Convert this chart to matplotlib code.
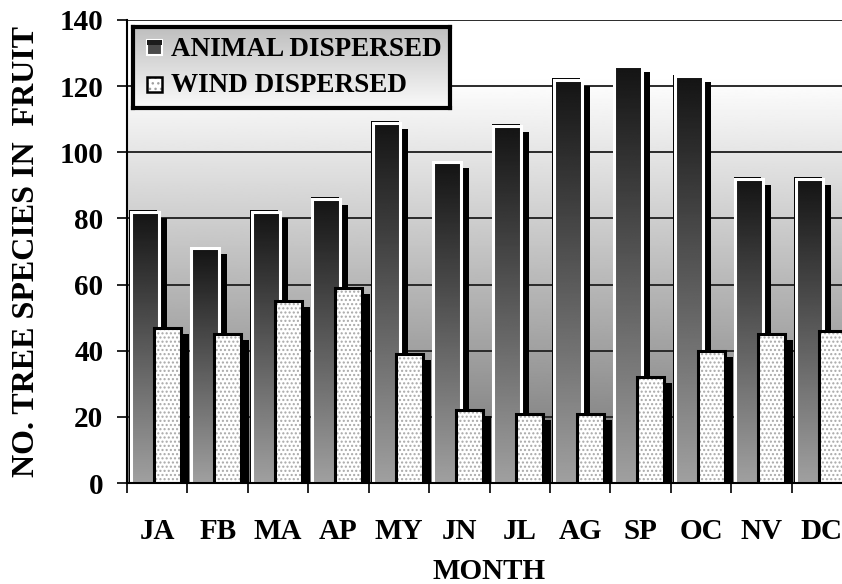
import numpy as np
import matplotlib
matplotlib.use("Agg")
import matplotlib.pyplot as plt
from matplotlib.patches import Rectangle
from matplotlib.transforms import ScaledTranslation

# ---- data ----
months = ["JA", "FB", "MA", "AP", "MY", "JN", "JL", "AG", "SP", "OC", "NV", "DC"]
animal = [82, 71, 82, 86, 109, 97, 108, 122, 126, 123, 92, 92]
wind = [47, 45, 55, 59, 39, 22, 21, 21, 32, 40, 45, 46]
yticks = [0, 20, 40, 60, 80, 100, 120, 140]
series_labels = ["ANIMAL DISPERSED", "WIND DISPERSED"]

FONT = ["Liberation Serif", "DejaVu Serif"]
plt.rcParams["font.family"] = FONT
plt.rcParams["font.weight"] = "bold"
plt.rcParams["hatch.linewidth"] = 1.0

W, H = 842, 584
fig = plt.figure(figsize=(W / 100, H / 100), dpi=100)
fig.patch.set_facecolor("white")
ax_l, ax_b, ax_r, ax_t = 127, 483, 852, 20  # pixel frame
ax = fig.add_axes([ax_l / W, (H - ax_b) / H, (ax_r - ax_l) / W, (ax_b - ax_t) / H])

n = len(months)
x = np.arange(n)
xa = x - 0.5 + 0.066 + 0.23
xw = x - 0.5 + 0.447 + 0.222
wa, ww = 0.46, 0.445

ax.set_xlim(-0.5, n - 0.5)
ax.set_ylim(0, 140)

# plot-area background gradient (white top -> gray bottom)
vals = np.linspace(0, 140, 300)
bg = np.clip(115 + 1.141 * vals, 0, 255) / 255.0
ax.imshow(bg[:, None], extent=[-0.5, n - 0.5, 0, 140], origin="lower",
          aspect="auto", cmap="gray", vmin=0, vmax=1, zorder=0)

# gridlines
for t in yticks[1:]:
    ax.axhline(t, color="#2a2a2a", lw=1.4, zorder=0.5)

def offset(dx_px, dy_px):
    return ax.transData + ScaledTranslation(dx_px / 100, dy_px / 100, fig.dpi_scale_trans)

# animal bars: shadow, dark outline, gradient fill, white edge
sh = ax.bar(xa, animal, width=wa, color="black", linewidth=0, zorder=1)
for p in sh:
    p.set_transform(offset(8, -6))
ol = ax.bar(xa, animal, width=wa, color="black", linewidth=0, zorder=1.5)
for p in ol:
    p.set_transform(offset(-1.5, 1.5))
grad = (np.linspace(160, 20, 256) / 255.0)[:, None]
bars_a = ax.bar(xa, animal, width=wa, color="none", edgecolor="white",
                linewidth=2.2, zorder=2.2)
for p in bars_a:
    x0, w, h = p.get_x(), p.get_width(), p.get_height()
    im = ax.imshow(grad, extent=[x0, x0 + w, 0, h], origin="lower", aspect="auto",
                   cmap="gray", vmin=0, vmax=1, zorder=2.1)
    im.set_clip_path(p)

# wind bars: shadow, dotted fill, black edge
shw = ax.bar(xw, wind, width=ww, color="black", linewidth=0, zorder=2.5)
for p in shw:
    p.set_transform(offset(8, -6))
ax.bar(xw, wind, width=ww, color="white", edgecolor="#a8a8a8", hatch="....",
       linewidth=0, zorder=3)
ax.bar(xw, wind, width=ww, fill=False, edgecolor="black", linewidth=2.2, zorder=3.2)

ax.set_xlim(-0.5, n - 0.5)
ax.set_ylim(0, 140)

# axes styling
for s in ["top", "right"]:
    ax.spines[s].set_visible(False)
ax.spines["left"].set_linewidth(1.5)
ax.spines["bottom"].set_linewidth(1.5)
ax.spines["left"].set_zorder(5)
ax.spines["bottom"].set_zorder(5)

ax.set_yticks(yticks)
ax.set_yticklabels([str(v) for v in yticks])
ax.tick_params(axis="y", direction="out", length=7, width=1.2, pad=10,
               labelsize=21)
ax.set_xticks(x)
ax.set_xticklabels(months)
ax.tick_params(axis="x", which="major", length=0, pad=25, labelsize=21)
ax.set_xticks(np.arange(n) - 0.5, minor=True)
ax.tick_params(axis="x", which="minor", direction="out", length=7.5, width=1.2)
for lab in ax.get_xticklabels() + ax.get_yticklabels():
    lab.set_fontweight("bold")

ax.set_xlabel("MONTH", fontsize=21, fontweight="bold")
ax.xaxis.set_label_coords(0.5, -0.162)
ax.set_ylabel("NO. TREE SPECIES IN  FRUIT", fontsize=23, fontweight="bold")
ax.yaxis.set_label_coords(-0.118, 0.5)

# ---- legend (drawn in its own small axes) ----
lx0, ly0, lx1, ly1 = 133, 27, 450, 108
lax = fig.add_axes([lx0 / W, (H - ly1) / H, (lx1 - lx0) / W, (ly1 - ly0) / H])
lax.set_xlim(0, lx1 - lx0)
lax.set_ylim(ly1 - ly0, 0)
lg = np.linspace(190, 250, 200)[:, None] / 255.0
lax.imshow(lg, extent=[0, lx1 - lx0, ly1 - ly0, 0], aspect="auto", cmap="gray",
           vmin=0, vmax=1, zorder=0)
lax.set_xticks([])
lax.set_yticks([])
for s in lax.spines.values():
    s.set_linewidth(3)
    s.set_color("black")
# markers
lax.add_patch(Rectangle((14, 13), 15, 15, facecolor="#4a4a4a", edgecolor="white",
                        linewidth=1.5, zorder=2))
lax.add_patch(Rectangle((14, 13), 15, 5, facecolor="#1c1c1c", linewidth=0, zorder=3))
lax.add_patch(Rectangle((14, 50), 15, 15, facecolor="white", edgecolor="#a0a0a0",
                        hatch="...", linewidth=0, zorder=2))
lax.add_patch(Rectangle((14, 50), 15, 15, fill=False, edgecolor="black",
                        linewidth=1.8, zorder=3))
lax.text(38, 22, series_labels[0], fontsize=19.5, fontweight="bold", va="center",
         ha="left", zorder=4)
lax.text(38, 58, series_labels[1], fontsize=19.5, fontweight="bold", va="center",
         ha="left", zorder=4)

fig.savefig("out.png", dpi=100)
